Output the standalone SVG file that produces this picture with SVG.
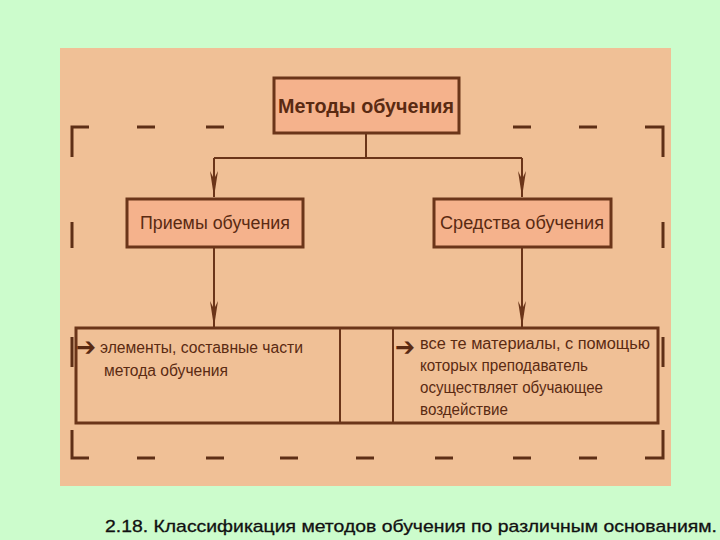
<svg xmlns="http://www.w3.org/2000/svg" width="720" height="540" viewBox="0 0 720 540">
<style>
.box{fill:#f5b28c;stroke:#6b3519;stroke-width:3}
.wide{fill:#f0c096;stroke:#6b3519;stroke-width:3}
.ln{stroke:#6b3519;stroke-width:2;fill:none}
.br{stroke:#5e2f16;stroke-width:3;fill:none}
.t{font-family:"Liberation Sans Narrow","Liberation Sans",Arial,sans-serif;fill:#5a2a12}
.h{font-size:21px;font-weight:bold}
.m{font-size:18px}
.s{font-size:16px}
.ar{font-family:"DejaVu Sans",sans-serif;font-size:26px;fill:#5a2a12;font-weight:bold}
.cap{font-family:"Liberation Sans",Arial,sans-serif;font-size:17px;fill:#111;stroke:#111;stroke-width:0.3}
</style>
<defs>
<marker id="arr" viewBox="0 0 26 8" refX="26" refY="4" markerWidth="26" markerHeight="8" markerUnits="userSpaceOnUse" orient="auto">
<path d="M0,0 L26,4 L0,8 L8,4 Z" fill="#6b3519"/>
</marker>
</defs>
<rect width="720" height="540" fill="#ccfccc"/>
<rect x="60" y="48" width="611" height="438" fill="#f0c096"/>
<g id="bracket">
<path class="br" d="M89,127 H72 V157 M72,222 V248 M72,337 V367 M72,430 V458 H89"/>
<path class="br" d="M645,127 H663 V157 M663,222 V248 M663,337 V367 M663,430 V458 H645"/>
<path class="br" d="M137,127 H155 M206,127 H224 M513,127 H531 M579,127 H597"/>
<path class="br" d="M137,458 H155 M206,458 H224 M280,458 H298 M356,458 H374 M435,458 H453 M513,458 H531 M579,458 H597"/>
</g>
<g id="connectors">
<path class="ln" d="M366,134 V158 M214,158 H522"/>
<path class="ln" d="M214,158 V197" marker-end="url(#arr)"/>
<path class="ln" d="M522,158 V197" marker-end="url(#arr)"/>
<path class="ln" d="M214,248 V327" marker-end="url(#arr)"/>
<path class="ln" d="M522,248 V327" marker-end="url(#arr)"/>
</g>
<g id="metody">
<rect class="box" x="274" y="78" width="185" height="55"/>
<text class="t h" x="366" y="113" text-anchor="middle" textLength="176" lengthAdjust="spacingAndGlyphs">Методы обучения</text>
</g>
<g id="priemy">
<rect class="box" x="127" y="199" width="176" height="48"/>
<text class="t m" x="215" y="229" text-anchor="middle" textLength="150" lengthAdjust="spacingAndGlyphs">Приемы обучения</text>
</g>
<g id="sredstva">
<rect class="box" x="434" y="199" width="177" height="48"/>
<text class="t m" x="522" y="229" text-anchor="middle" textLength="164" lengthAdjust="spacingAndGlyphs">Средства обучения</text>
</g>
<g id="definitions">
<rect class="wide" x="76" y="328" width="582" height="95"/>
<path class="ln" d="M340,328 V423 M393,328 V423"/>
<text class="ar" x="76" y="356" textLength="20" lengthAdjust="spacingAndGlyphs">➔</text>
<text class="t s" x="100" y="353" textLength="203" lengthAdjust="spacingAndGlyphs">элементы, составные части</text>
<text class="t s" x="104" y="376" textLength="124" lengthAdjust="spacingAndGlyphs">метода обучения</text>
<text class="ar" x="395" y="356" textLength="20" lengthAdjust="spacingAndGlyphs">➔</text>
<text class="t s" x="420" y="349" textLength="230" lengthAdjust="spacingAndGlyphs">все те материалы,  с помощью</text>
<text class="t s" x="420" y="371" textLength="168" lengthAdjust="spacingAndGlyphs">которых преподаватель</text>
<text class="t s" x="420" y="393" textLength="183" lengthAdjust="spacingAndGlyphs">осуществляет обучающее</text>
<text class="t s" x="420" y="415" textLength="88" lengthAdjust="spacingAndGlyphs">воздействие</text>
</g>
<text class="cap" x="105" y="532" textLength="612" lengthAdjust="spacingAndGlyphs">2.18. Классификация методов обучения по различным основаниям.</text>
</svg>
